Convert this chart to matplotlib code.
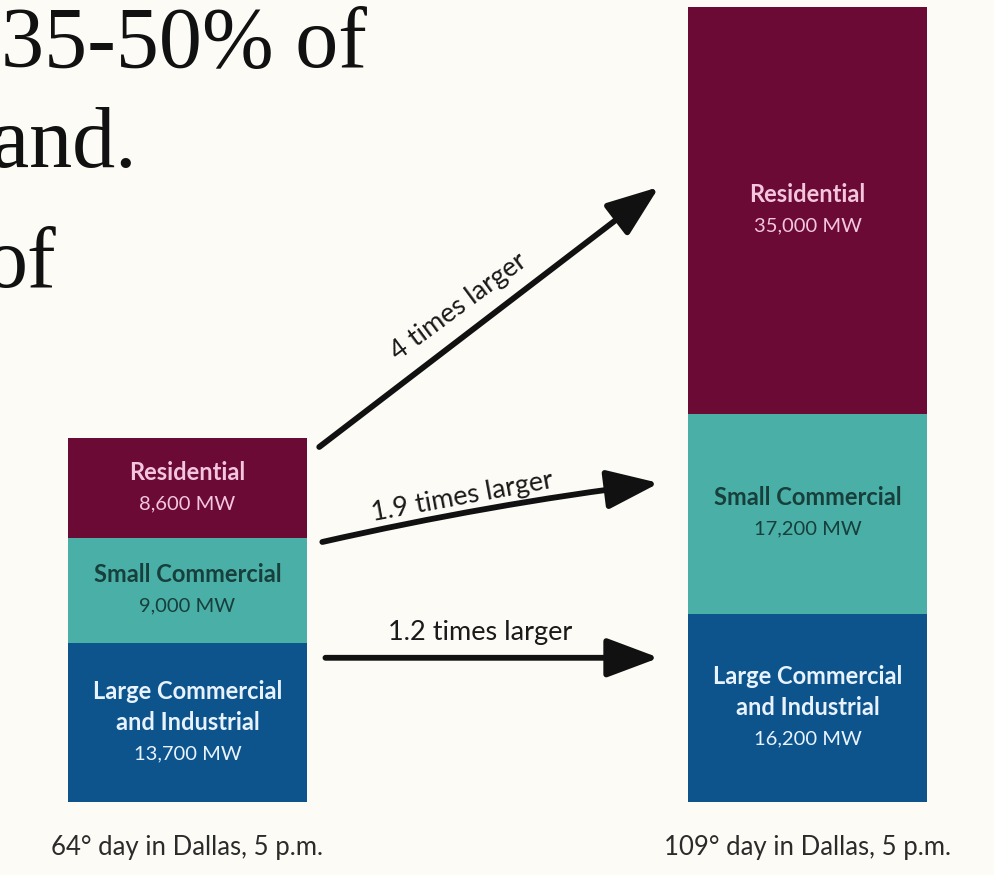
import matplotlib.pyplot as plt

# stacked load by customer class, bottom segment first
segments = ["Large Commercial\nand Industrial", "Small Commercial", "Residential"]
mild_day_mw = [13700, 9000, 8600]
hot_day_mw = [16200, 17200, 35000]
day_labels = ["64° day in Dallas, 5 p.m.", "109° day in Dallas, 5 p.m."]
growth_labels = ["1.2 times larger", "1.9 times larger", "4 times larger"]

seg_colors = ["#0d548d", "#4aafa7", "#6b0a35"]
text_colors = ["#e8f3ff", "#173f3b", "#f4c6de"]
bg = "#fdfbf6"

plt.rcParams['font.family'] = ['Lato', 'DejaVu Sans']

fig = plt.figure(figsize=(9.94, 8.75), dpi=100, facecolor=bg)
ax = fig.add_axes([0, 0, 1, 1])
ax.set_facecolor(bg)
ax.set_xlim(-0.3024, 1.3008)
ax.set_ylim(-6280, 68970)
ax.axis('off')

width = 0.385
pitch = 22.5  # points between label lines

for xi, vals in enumerate([mild_day_mw, hot_day_mw]):
    bottom = 0
    for k, v in enumerate(vals):
        ax.bar(xi, v, width=width, bottom=bottom, color=seg_colors[k],
               edgecolor='none')
        name_lines = segments[k].split("\n")
        lines = name_lines + [f"{v:,} MW"]
        n = len(lines)
        for i, line in enumerate(lines):
            is_name = i < len(name_lines)
            ax.annotate(line, (xi, bottom + v / 2),
                        xytext=(0, ((n - 1) / 2 - i) * pitch),
                        textcoords='offset points', ha='center', va='center',
                        fontsize=17 if is_name else 14.5,
                        fontweight='bold' if is_name else 'normal',
                        color=text_colors[k])
        bottom += v
    ax.text(xi, -3950, day_labels[xi], ha='center', va='center',
            fontsize=18.5, color='#2b2b2b')

# arrows from the mild-day segments to the hot-day segments
x0 = width / 2 + 0.025
x1 = 1 - width / 2 - 0.047
arrow_ends = [((x0 + 0.005, 12400), (x1, 12400), 0),
              ((x0, 22360), (x1, 27430), -0.025),
              ((x0 - 0.005, 30530), (x1, 52890), 0)]
label_pos = [(0.472, 14600, 0), (0.444, 26250, 10.5), (0.437, 42600, 36.5)]

for (start, end, rad), (lx, ly, rot), lab in zip(arrow_ends, label_pos, growth_labels):
    ax.annotate("", xy=end, xytext=start,
                arrowprops=dict(arrowstyle="-|>,head_length=1.6,head_width=0.6",
                                lw=4.2, color='#111111', mutation_scale=20,
                                shrinkA=0, shrinkB=0,
                                connectionstyle=f"arc3,rad={rad}"))
    ax.text(lx, ly, lab, ha='center', va='center', rotation=rot,
            rotation_mode='anchor', fontsize=19.5, color='#1a1a1a')

# fragment of the slide text behind the chart
serif = ['Liberation Serif', 'DejaVu Serif']
fig.text(367 / 994, 1 - 67 / 875, "35-50% of", ha='right', va='baseline',
         fontsize=62, family=serif, color='#111111')
fig.text(137 / 994, 1 - 167 / 875, "and.", ha='right', va='baseline',
         fontsize=62, family=serif, color='#111111')
fig.text(57 / 994, 1 - 287 / 875, "of", ha='right', va='baseline',
         fontsize=62, family=serif, color='#111111')

fig.savefig("out.png", dpi=100, facecolor=bg)
